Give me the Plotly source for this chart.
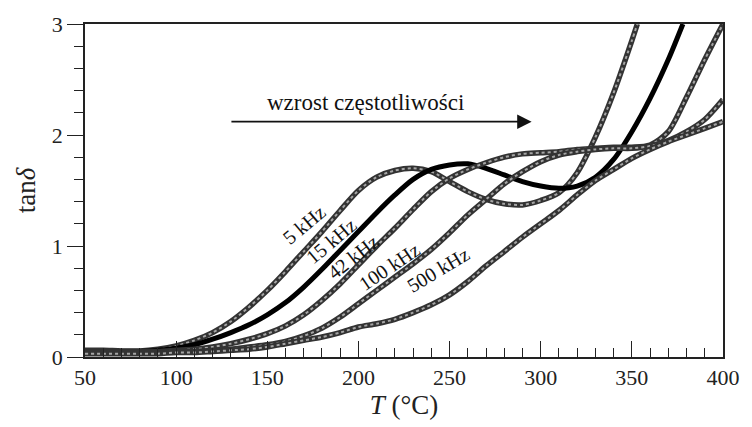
import plotly.graph_objects as go

T_5k = [50, 60, 70, 80, 90, 100, 110, 120, 130, 140, 150, 160, 170, 180, 190, 200, 210, 220, 230,
        240, 250, 260, 270, 280, 290, 300, 310, 320, 330, 340, 350, 353]
tan_5k = [0.06, 0.06, 0.055, 0.055, 0.07, 0.10, 0.15, 0.22, 0.32, 0.45, 0.60, 0.77, 0.95, 1.13, 1.32,
          1.50, 1.62, 1.68, 1.70, 1.67, 1.58, 1.49, 1.42, 1.38, 1.37, 1.41, 1.48, 1.66, 1.98, 2.38, 2.85, 3.0]

T_15k = [50, 60, 70, 80, 90, 100, 110, 120, 130, 140, 150, 160, 170, 180, 190, 200, 210, 220, 230,
         240, 250, 260, 270, 280, 290, 300, 310, 320, 330, 340, 350, 360, 370, 378]
tan_15k = [0.05, 0.05, 0.05, 0.05, 0.06, 0.08, 0.11, 0.16, 0.22, 0.29, 0.38, 0.49, 0.63, 0.79, 0.96,
           1.13, 1.30, 1.46, 1.60, 1.69, 1.73, 1.74, 1.70, 1.64, 1.58, 1.54, 1.52, 1.54, 1.62, 1.78,
           2.03, 2.33, 2.68, 3.0]

T_42k = [50, 60, 70, 80, 90, 100, 110, 120, 130, 140, 150, 160, 170, 180, 190, 200, 210, 220, 230,
         240, 250, 260, 270, 280, 290, 300, 310, 320, 330, 340, 350, 360, 370, 380, 390, 400]
tan_42k = [0.05, 0.05, 0.05, 0.05, 0.05, 0.06, 0.07, 0.09, 0.12, 0.16, 0.21, 0.28, 0.38, 0.51, 0.66,
           0.83, 1.00, 1.16, 1.33, 1.49, 1.61, 1.69, 1.75, 1.80, 1.83, 1.84, 1.85, 1.87, 1.88, 1.89,
           1.89, 1.91, 2.03, 2.34, 2.68, 3.0]

T_100k = [50, 60, 70, 80, 90, 100, 110, 120, 130, 140, 150, 160, 170, 180, 190, 200, 210, 220, 230,
          240, 250, 260, 270, 280, 290, 300, 310, 320, 330, 340, 350, 360, 370, 380, 390, 400]
tan_100k = [0.04, 0.04, 0.04, 0.04, 0.04, 0.05, 0.05, 0.06, 0.07, 0.09, 0.11, 0.14, 0.19, 0.26, 0.36,
            0.48, 0.60, 0.72, 0.84, 0.97, 1.12, 1.28, 1.42, 1.56, 1.67, 1.76, 1.82, 1.85, 1.87, 1.88,
            1.88, 1.90, 1.95, 2.03, 2.14, 2.32]

T_500k = [50, 60, 70, 80, 90, 100, 110, 120, 130, 140, 150, 160, 170, 180, 190, 200, 210, 220, 230,
          240, 250, 260, 270, 280, 290, 300, 310, 320, 330, 340, 350, 360, 370, 380, 390, 400]
tan_500k = [0.03, 0.03, 0.03, 0.03, 0.03, 0.04, 0.04, 0.05, 0.06, 0.07, 0.09, 0.12, 0.15, 0.18, 0.22,
            0.27, 0.30, 0.34, 0.40, 0.47, 0.56, 0.68, 0.82, 0.95, 1.08, 1.20, 1.32, 1.46, 1.59, 1.69,
            1.79, 1.87, 1.94, 2.00, 2.06, 2.12]

series_names = ["5 kHz", "15 kHz", "42 kHz", "100 kHz", "500 kHz"]
series_T = [T_5k, T_15k, T_42k, T_100k, T_500k]
series_tan = [tan_5k, tan_15k, tan_42k, tan_100k, tan_500k]
filled = [False, True, False, False, False]

# label positions (data coords) and angles
label_T = [170, 185, 197, 216.5, 243.5]
label_tan = [1.19, 1.045, 0.9, 0.815, 0.785]
label_angle = [-40, -40, -38, -34, -31]

x_ticks = [50, 100, 150, 200, 250, 300, 350, 400]
y_ticks = [0, 1, 2, 3]

FONT = "Liberation Serif"

fig = go.Figure()
for name, xs, ys, f in zip(series_names, series_T, series_tan, filled):
    if f:
        fig.add_trace(go.Scatter(x=xs, y=ys, mode="lines", name=name,
                                 line=dict(color="#000000", width=5, shape="spline", smoothing=0.8)))
    else:
        fig.add_trace(go.Scatter(x=xs, y=ys, mode="lines", name=name,
                                 line=dict(color="#333333", width=5.5, shape="spline", smoothing=0.8)))
        fig.add_trace(go.Scatter(x=xs, y=ys, mode="lines", name=name, showlegend=False,
                                 line=dict(color="#a5a5a5", width=2, shape="spline", smoothing=0.8,
                                           dash="dot")))

for name, lx, ly, ang in zip(series_names, label_T, label_tan, label_angle):
    fig.add_annotation(x=lx, y=ly, text=name, showarrow=False, textangle=ang,
                       font=dict(family=FONT, size=20, color="#111111"))

# arrow "wzrost częstotliwości"
fig.add_annotation(x=295, y=2.12, ax=129.5, ay=2.12, axref="x", ayref="y", xref="x", yref="y",
                   text="", showarrow=True, arrowhead=2, arrowsize=1.6, arrowwidth=1.8,
                   arrowcolor="#111111")
fig.add_annotation(x=204, y=2.29, text="wzrost częstotliwości", showarrow=False,
                   font=dict(family=FONT, size=23, color="#111111"))

fig.update_layout(
    width=752, height=427,
    margin=dict(l=85, r=21, t=22, b=70),
    paper_bgcolor="white", plot_bgcolor="white",
    showlegend=False,
    font=dict(family=FONT, size=22, color="#222222"),
    xaxis=dict(range=[50, 400], tickvals=x_ticks, ticks="inside", ticklen=16, tickwidth=1.3,
               tickcolor="#222222", showline=True, linecolor="#222222", linewidth=1.6,
               mirror=True, showgrid=False, zeroline=False,
               minor=dict(dtick=10, ticks="inside", ticklen=9, tickwidth=1.2, tickcolor="#222222"),
               title=dict(text="<i>T</i> (°C)", font=dict(family=FONT, size=27), standoff=4)),
    yaxis=dict(range=[0, 3], tickvals=y_ticks, ticks="outside", ticklen=16, tickwidth=1.3,
               tickcolor="#222222", showline=True, linecolor="#222222", linewidth=1.6,
               mirror=True, showgrid=False, zeroline=False,
               minor=dict(dtick=0.2, ticks="outside", ticklen=9, tickwidth=1.2, tickcolor="#222222"),
               title=dict(text="tan<i>δ</i>", font=dict(family=FONT, size=27), standoff=8)),
)

fig.write_html("out.html")
